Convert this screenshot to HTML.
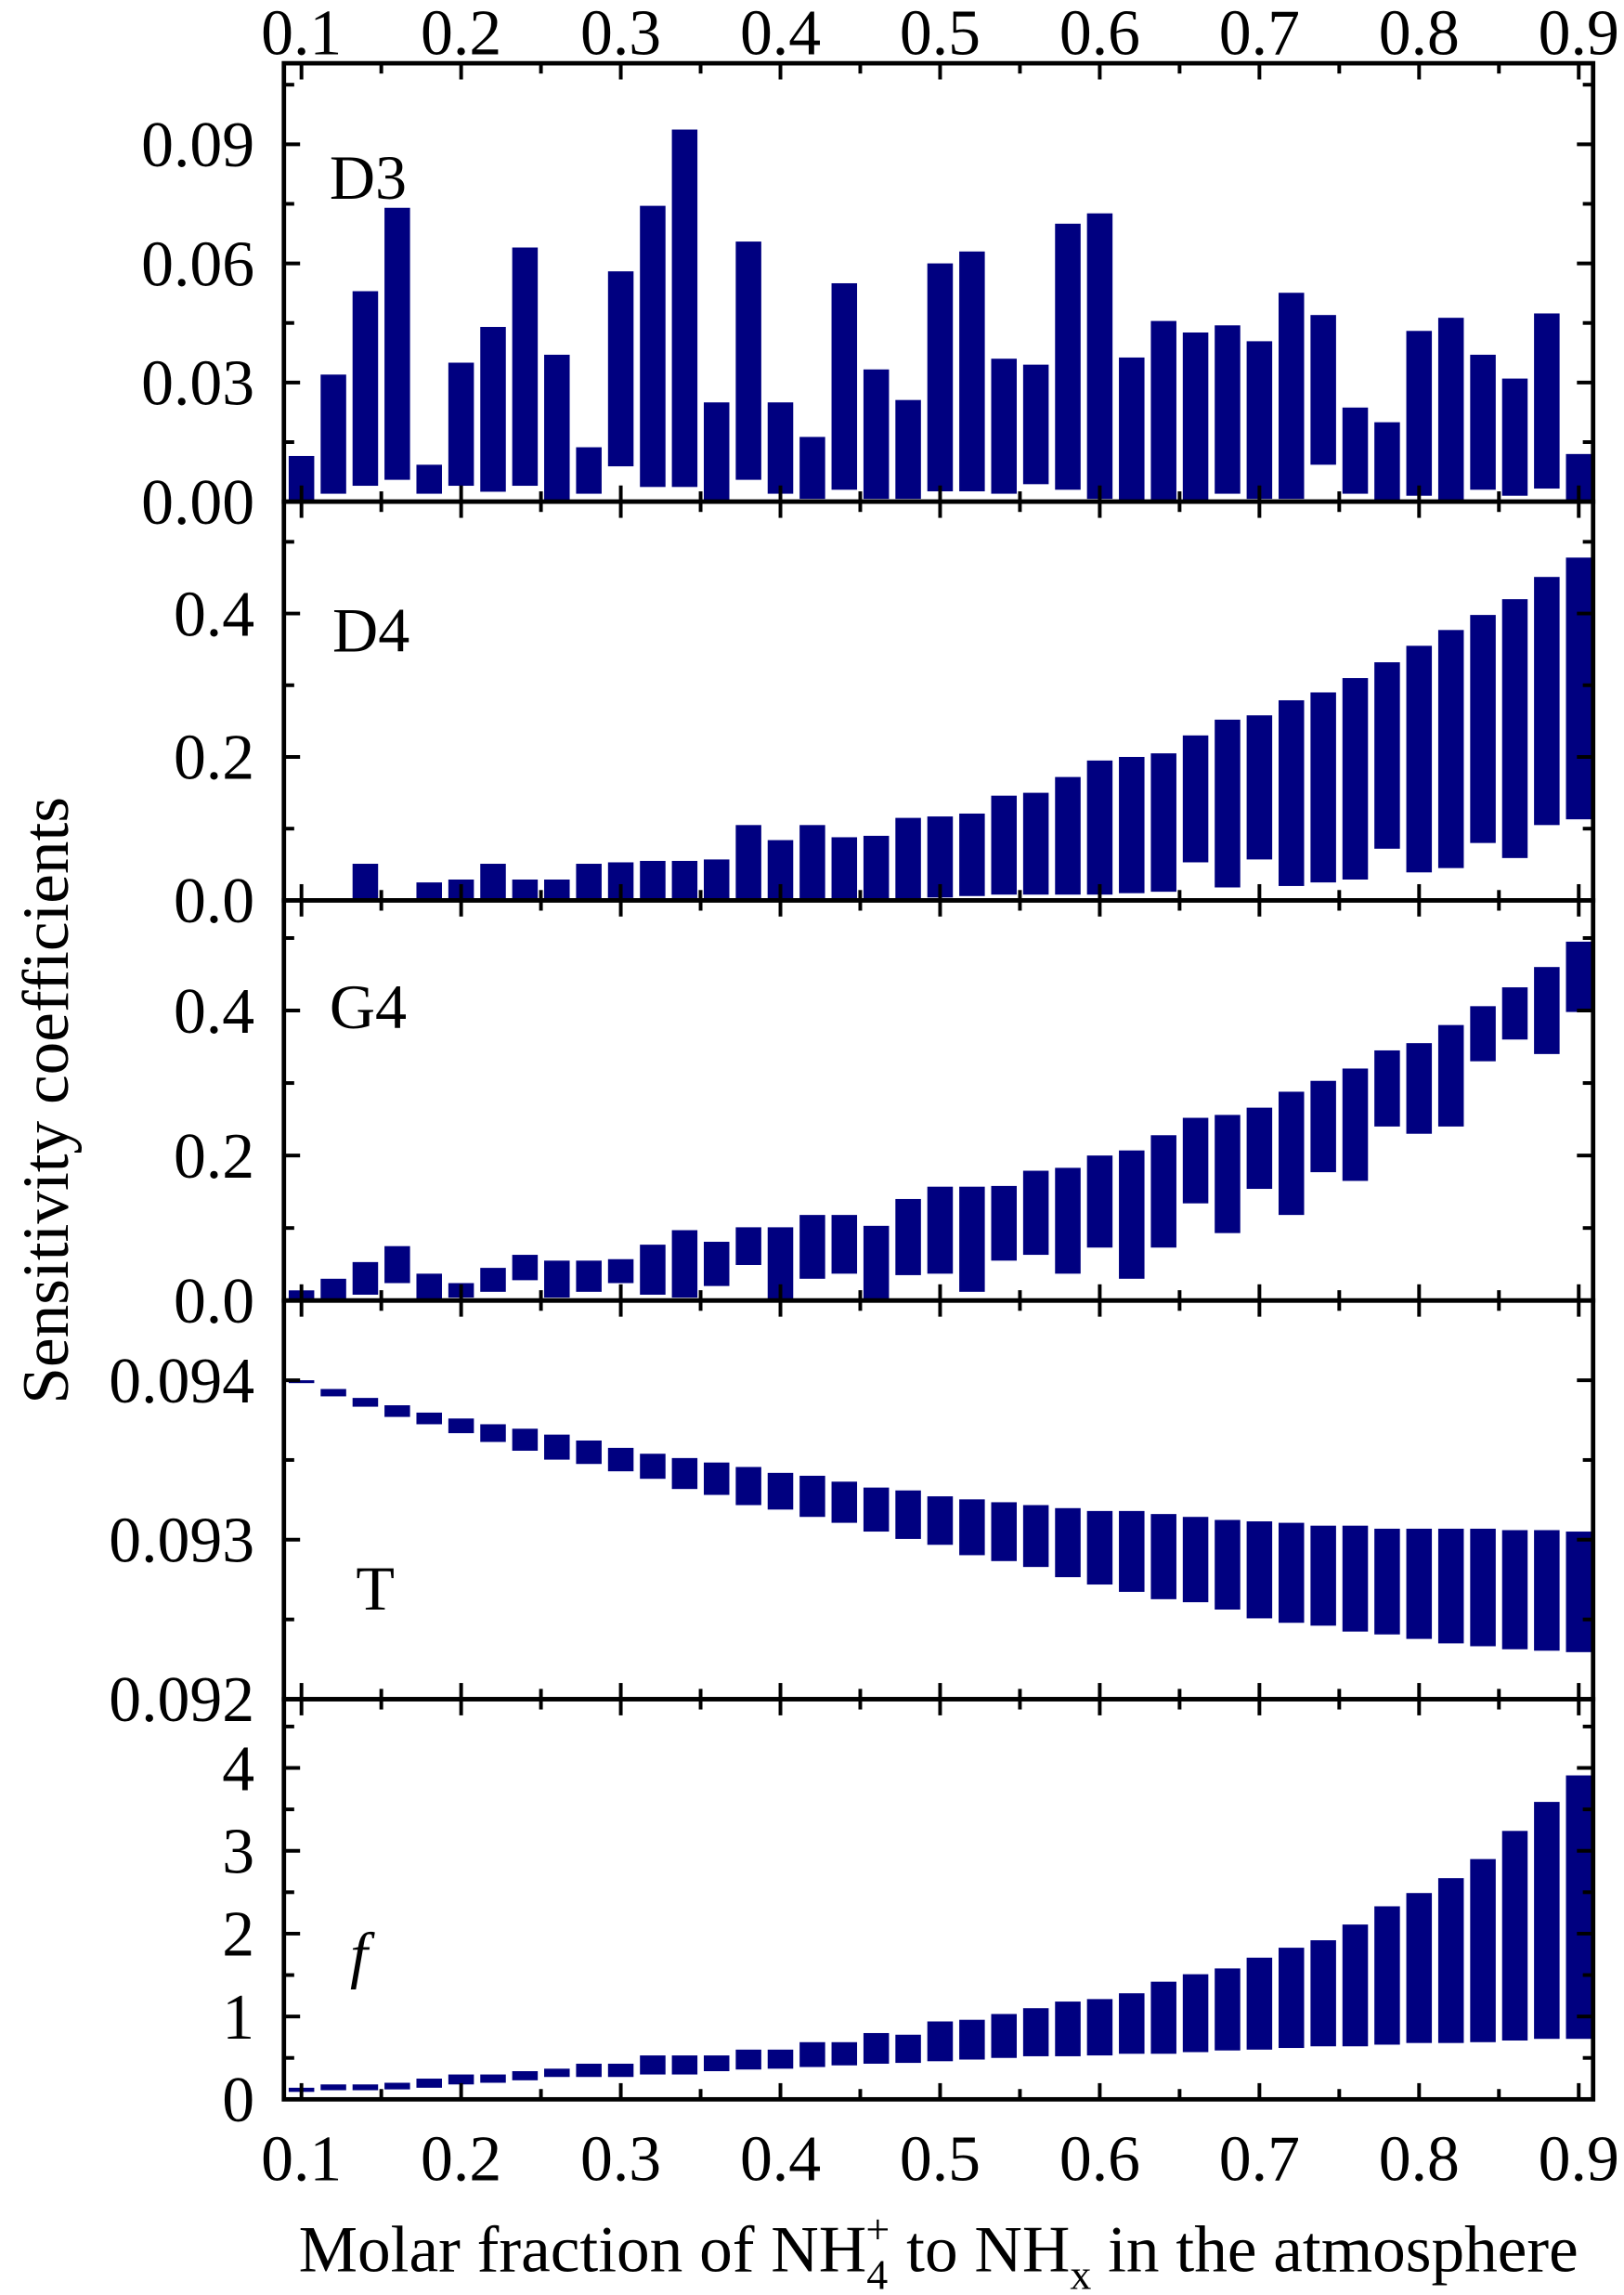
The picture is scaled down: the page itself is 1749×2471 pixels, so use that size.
<!DOCTYPE html>
<html><head><meta charset="utf-8"><style>
html,body{margin:0;padding:0;background:#fff;}
svg{display:block;}
text{font-family:"Liberation Serif",serif;fill:#000;}
</style></head><body>
<svg id="chart" width="1749" height="2471" viewBox="0 0 1104 1560" preserveAspectRatio="none" xmlns="http://www.w3.org/2000/svg"></svg>
<script>
const xCats=[];for(let i=0;i<=40;i++)xCats.push(+(0.1+0.02*i).toFixed(2));
const xTicks=[0.1,0.2,0.3,0.4,0.5,0.6,0.7,0.8,0.9];
const xTickLabels=["0.1","0.2","0.3","0.4","0.5","0.6","0.7","0.8","0.9"];
const d3Hi=[0.0115,0.032,0.053,0.074,0.0093,0.035,0.044,0.064,0.037,0.0137,0.058,0.0745,0.0937,0.025,0.0655,0.025,0.0163,0.055,0.0333,0.0256,0.06,0.063,0.036,0.0345,0.07,0.0726,0.0363,0.0455,0.0426,0.0444,0.0404,0.0526,0.047,0.0237,0.02,0.043,0.0463,0.037,0.031,0.0474,0.012];
const d3Lo=[0,0.002,0.004,0.0055,0.002,0.004,0.0025,0.004,0,0.002,0.0089,0.0037,0.0037,0,0.0055,0.002,0.0007,0.003,0.0007,0.0007,0.0026,0.0026,0.002,0.0044,0.003,0.0007,0,0,0,0.002,0.0007,0.0007,0.0093,0.002,0,0.0015,0,0.003,0.0015,0.0033,0];
const d4Hi=[0.001,0.001,0.051,0.002,0.025,0.029,0.051,0.029,0.029,0.051,0.053,0.055,0.055,0.057,0.105,0.084,0.105,0.088,0.09,0.115,0.117,0.121,0.146,0.15,0.172,0.195,0.2,0.205,0.23,0.252,0.258,0.279,0.29,0.31,0.332,0.355,0.377,0.398,0.42,0.451,0.478];
const d4Lo=[0,0,0,0,0,0,0,0,0,0,0,0,0,0,0,0,0,0,0,0,0.004,0.006,0.008,0.008,0.008,0.008,0.01,0.012,0.053,0.018,0.057,0.02,0.025,0.029,0.072,0.039,0.045,0.08,0.059,0.105,0.113];
const g4Hi=[0.014,0.03,0.053,0.075,0.037,0.024,0.045,0.063,0.055,0.055,0.057,0.077,0.097,0.081,0.101,0.101,0.118,0.118,0.103,0.14,0.157,0.157,0.158,0.179,0.183,0.2,0.207,0.228,0.252,0.256,0.266,0.288,0.303,0.32,0.345,0.355,0.38,0.406,0.432,0.46,0.495];
const g4Lo=[0,0,0.008,0.024,0,0.004,0.012,0.028,0.004,0.012,0.024,0.008,0.004,0.02,0.049,0,0.03,0.037,0,0.035,0.037,0.012,0.055,0.063,0.037,0.073,0.03,0.073,0.134,0.093,0.154,0.118,0.177,0.165,0.24,0.23,0.24,0.33,0.36,0.34,0.398];
const tHi=[0.094,0.093945,0.093889,0.093843,0.093797,0.09376,0.093724,0.093696,0.093659,0.093622,0.093576,0.093539,0.093512,0.093484,0.093456,0.093419,0.093401,0.093364,0.093327,0.093309,0.093272,0.093253,0.093235,0.093217,0.093198,0.09318,0.09318,0.093161,0.093143,0.093124,0.093115,0.093106,0.093088,0.093088,0.093069,0.093069,0.093069,0.093069,0.09306,0.09306,0.093051];
const tLo=[0.093982,0.093899,0.093834,0.09377,0.093724,0.093668,0.093613,0.093558,0.093502,0.093475,0.093429,0.093382,0.093318,0.093281,0.093217,0.093189,0.093143,0.093106,0.093051,0.093005,0.092968,0.092903,0.092866,0.092829,0.092765,0.092719,0.092673,0.092627,0.092608,0.092562,0.092507,0.092479,0.092461,0.092424,0.092406,0.092378,0.09235,0.092332,0.092313,0.092304,0.092295];
const fHi=[0.14,0.18,0.18,0.2,0.25,0.3,0.3,0.34,0.37,0.43,0.43,0.53,0.53,0.53,0.6,0.6,0.69,0.69,0.8,0.78,0.94,0.96,1.03,1.1,1.18,1.21,1.28,1.42,1.51,1.58,1.71,1.83,1.92,2.11,2.33,2.49,2.67,2.9,3.24,3.59,3.91];
const fLo=[0.09,0.11,0.11,0.12,0.14,0.18,0.2,0.23,0.27,0.27,0.27,0.3,0.3,0.34,0.36,0.37,0.39,0.41,0.43,0.44,0.46,0.48,0.5,0.52,0.52,0.53,0.55,0.55,0.57,0.59,0.6,0.62,0.64,0.64,0.66,0.68,0.68,0.69,0.71,0.73,0.73];
const d3Ticks=[0,0.03,0.06,0.09], d3Labels=["0.00","0.03","0.06","0.09"];
const d4Ticks=[0,0.2,0.4], d4Labels=["0.0","0.2","0.4"];
const tTicks=[0.092,0.093,0.094], tLabels=["0.092","0.093","0.094"];
const fTicks=[0,1,2,3,4], fLabels=["0","1","2","3","4"];

const svg=document.getElementById('chart');
const NS='http://www.w3.org/2000/svg';
const L=193,R=1083,X0=0.089,X1=0.909;
const xs=v=>L+(v-X0)/(X1-X0)*(R-L);
function mk(tag,attrs,parent){const e=document.createElementNS(NS,tag);for(const k in attrs)e.setAttribute(k,attrs[k]);(parent||svg).appendChild(e);return e;}
const panels=[
 {name:'d3',top:43,bot:341,y0:0,y1:0.1104,hi:d3Hi,lo:d3Lo,ticks:d3Ticks,labels:d3Labels,minor:0.015,label:'D3',lx:224,ly:135,italic:false},
 {name:'d4',top:341,bot:612,y0:0,y1:0.556,hi:d4Hi,lo:d4Lo,ticks:d4Ticks,labels:d4Labels,minor:0.1,label:'D4',lx:226,ly:443,italic:false},
 {name:'g4',top:612,bot:884,y0:0,y1:0.552,hi:g4Hi,lo:g4Lo,ticks:[0,0.2,0.4],labels:d4Labels,minor:0.1,label:'G4',lx:224,ly:699,italic:false},
 {name:'t',top:884,bot:1155,y0:0.092,y1:0.0945,hi:tHi,lo:tLo,ticks:tTicks,labels:tLabels,minor:0.0005,label:'T',lx:242,ly:1094,italic:false},
 {name:'f',top:1155,bot:1427,y0:0,y1:4.83,hi:fHi,lo:fLo,ticks:fTicks,labels:fLabels,minor:0.5,label:'f',lx:238,ly:1343,italic:true}
];
const bw=(xs(0.116)-xs(0.1));
panels.forEach(p=>{
  const g=mk('g',{});
  
  
  const ys=v=>p.bot-(v-p.y0)/(p.y1-p.y0)*(p.bot-p.top);
  xCats.forEach((x,i)=>{
    const yt=ys(p.hi[i]),yb=ys(p.lo[i]);
    const r=mk('rect',{x:xs(x)-bw/2,y:yt,width:bw,height:Math.max(1.5,yb-yt),fill:'#000080'},g);
    
    
  });
  const ta=mk('g',{stroke:'#000','stroke-width':2.5},g);
  
  
  for(let k=2;k<=18;k++){
    const v=k*0.05;const major=k%2===0;const len=major?11:7;const X=xs(v);
    mk('line',{x1:X,x2:X,y1:p.bot,y2:p.bot-len},ta);
    mk('line',{x1:X,x2:X,y1:p.top,y2:p.top+len},ta);
  }
  for(let v=p.y0;v<=p.y1+1e-9;v+=p.minor){
    const major=p.ticks.some(t=>Math.abs(t-v)<p.minor/10);const len=major?11:7;const Y=ys(v);
    if(Y<p.top+1||Y>p.bot-1)continue;
    mk('line',{x1:L,x2:L+len,y1:Y,y2:Y},ta);
    mk('line',{x1:R,x2:R-len,y1:Y,y2:Y},ta);
  }
  p.ticks.forEach((t,i)=>{
    const tx=mk('text',{x:173,y:ys(t)+15,'text-anchor':'end','font-size':44},g);
    tx.textContent=p.labels[i];
    
    
  });
  const lb=mk('text',{x:p.lx,y:p.ly,'font-size':43,'font-style':p.italic?'italic':'normal'},g);
  lb.textContent=p.label;
  
  
  const fr=mk('rect',{x:L,y:p.top,width:R-L,height:p.bot-p.top,fill:'none',stroke:'#000','stroke-width':3},g);
  
  
});
xTicks.forEach((t,i)=>{
  const a=mk('text',{x:xs(t),y:37,'text-anchor':'middle','font-size':44});a.textContent=xTickLabels[i];
  
  
  const b=mk('text',{x:xs(t),y:1482,'text-anchor':'middle','font-size':44});b.textContent=xTickLabels[i];
  
  
});
const yt=mk('text',{x:0,y:0,'text-anchor':'middle','font-size':45,transform:'translate(46,748) rotate(-90)'});
yt.textContent='Sensitivity coefficients';


const xt=mk('text',{x:638,y:1544,'text-anchor':'middle','font-size':45});
xt.innerHTML='Molar fraction of NH<tspan dy="12" font-size="29">4</tspan><tspan dx="-15" dy="-31" font-size="29">+</tspan><tspan dy="19"> to NH</tspan><tspan dy="12" font-size="29">x</tspan><tspan dy="-12"> in the atmosphere</tspan>';


</script>
</body></html>
